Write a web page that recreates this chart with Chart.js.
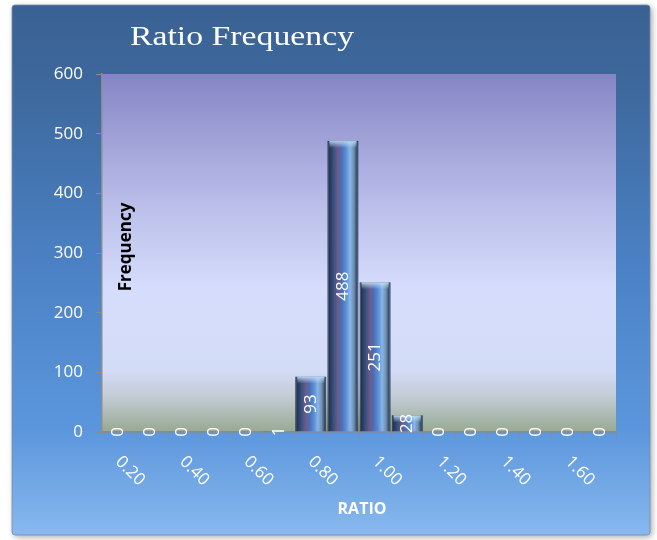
<!DOCTYPE html>
<html>
<head>
<meta charset="utf-8">
<script src="https://cdn.jsdelivr.net/npm/chart.js@4"></script>
<style>
  html, body { margin: 0; padding: 0; background: #fff; }
  #chart { display: block; }
</style>
</head>
<body>
<canvas id="chart" width="657" height="540"></canvas>
<script>
// bins of the ratio histogram
const categories = ['0.20', '0.30', '0.40', '0.50', '0.60', '0.70', '0.80', '0.90',
                    '1.00', '1.10', '1.20', '1.30', '1.40', '1.50', '1.60', '1.70'];
const frequency = [0, 0, 0, 0, 0, 1, 93, 488, 251, 28, 0, 0, 0, 0, 0, 0];
// only every other bin gets a label under the axis
const tickLabels = ['0.20', '', '0.40', '', '0.60', '', '0.80', '',
                    '1.00', '', '1.20', '', '1.40', '', '1.60', ''];
const yTicks = [0, 100, 200, 300, 400, 500, 600];

const chartTitle = 'Ratio Frequency';
const yTitle = 'Frequency';
const xTitle = 'RATIO';

const LABEL_FONT = '17px "Open Sans"';

function barFill(ctx) {
    const chart = ctx.chart;
    const area = chart.chartArea;
    if (!area) return '#4a78c0';
    const x = chart.scales.x.getPixelForValue(ctx.dataIndex);
    const w = (area.right - area.left) / categories.length;
    const g = chart.ctx.createLinearGradient(x - w / 2, 0, x + w / 2, 0);
    g.addColorStop(0, '#18243c');
    g.addColorStop(0.1, '#263b5e');
    g.addColorStop(0.24, '#425583');
    g.addColorStop(0.34, '#70598a');
    g.addColorStop(0.46, '#4870b5');
    g.addColorStop(0.6, '#5b8fd6');
    g.addColorStop(0.72, '#88b6e8');
    g.addColorStop(0.84, '#7090b0');
    g.addColorStop(0.95, '#283d5a');
    g.addColorStop(1, '#18243c');
    return g;
}

const backdrop = {
    id: 'backdrop',
    beforeDraw(chart) {
        const c = chart.ctx;
        const a = chart.chartArea;
        c.save();
        c.fillStyle = '#ffffff';
        c.fillRect(0, 0, chart.width, chart.height);

        // outer panel
        c.shadowColor = 'rgba(0,0,0,0.35)';
        c.shadowBlur = 6;
        c.shadowOffsetX = 2;
        c.shadowOffsetY = 2;
        const pg = c.createLinearGradient(0, 5, 0, 535);
        pg.addColorStop(0, '#3a6193');
        pg.addColorStop(0.18, '#3e6a9f');
        pg.addColorStop(0.47, '#4a80c3');
        pg.addColorStop(0.8, '#5b96dc');
        pg.addColorStop(1, '#88b8ee');
        c.fillStyle = pg;
        c.beginPath();
        c.roundRect(12, 5, 638, 530, 3);
        c.fill();
        c.shadowColor = 'transparent';
        c.strokeStyle = 'rgba(120,140,170,0.8)';
        c.lineWidth = 1;
        c.stroke();

        // plot area
        const bg = c.createLinearGradient(0, a.top, 0, a.bottom);
        bg.addColorStop(0, '#8585c5');
        bg.addColorStop(0.35, '#b8bce8');
        bg.addColorStop(0.6, '#d5ddfc');
        bg.addColorStop(0.83, '#d3dcf6');
        bg.addColorStop(0.9, '#c3ccd6');
        bg.addColorStop(1, '#97a991');
        c.fillStyle = bg;
        c.fillRect(a.left, a.top, a.right - a.left, a.bottom - a.top);
        c.restore();
    },
    afterDatasetsDraw(chart) {
        const c = chart.ctx;
        const meta = chart.getDatasetMeta(0);
        c.save();
        // light cap at the top of each bar
        meta.data.forEach(bar => {
            const h = Math.min(7, bar.base - bar.y);
            if (h < 3) return;
            const w = bar.width;
            const cg = c.createLinearGradient(0, bar.y, 0, bar.y + h);
            cg.addColorStop(0, 'rgba(200,230,255,0.85)');
            cg.addColorStop(1, 'rgba(200,230,255,0)');
            c.fillStyle = cg;
            c.fillRect(bar.x - w / 2 + 2, bar.y, w - 4, h);
        });
        // value labels, rotated, centred in each bar
        c.fillStyle = '#ffffff';
        c.font = LABEL_FONT;
        c.textAlign = 'center';
        c.textBaseline = 'middle';
        meta.data.forEach((bar, i) => {
            c.save();
            c.translate(bar.x, (bar.y + bar.base) / 2);
            c.rotate(-Math.PI / 2);
            c.fillText(String(frequency[i]), 0, 0);
            c.restore();
        });
        c.restore();
    },
    afterDraw(chart) {
        const c = chart.ctx;
        const a = chart.chartArea;
        const xs = chart.scales.x;
        c.save();
        // x tick labels, slanted down to the right
        c.fillStyle = '#ffffff';
        c.font = LABEL_FONT;
        c.textAlign = 'center';
        c.textBaseline = 'middle';
        tickLabels.forEach((t, i) => {
            if (!t) return;
            c.save();
            c.translate(xs.getPixelForValue(i) + 12, a.bottom + 39);
            c.rotate(Math.PI / 4);
            c.fillText(t, 0, 0);
            c.restore();
        });

        // chart title, stretched to the width it has in the original
        c.font = '28px "Liberation Serif"';
        c.textAlign = 'left';
        c.textBaseline = 'alphabetic';
        const tw = c.measureText(chartTitle).width;
        c.save();
        c.translate(130, 45);
        c.scale(224 / tw, 1);
        c.fillText(chartTitle, 0, 0);
        c.restore();

        // axis titles
        c.font = 'bold 16px "Open Sans"';
        c.textAlign = 'center';
        c.textBaseline = 'middle';
        c.fillText(xTitle, (a.left + a.right) / 2 + 3, 509);

        c.fillStyle = '#000000';
        c.font = 'bold 17px "Open Sans"';
        c.save();
        c.translate(a.left + 24, 247);
        c.rotate(-Math.PI / 2);
        c.fillText(yTitle, 0, 0);
        c.restore();
        c.restore();
    }
};

new Chart(document.getElementById('chart'), {
    type: 'bar',
    data: {
        labels: categories,
        datasets: [{
            label: yTitle,
            data: frequency,
            backgroundColor: barFill,
            borderColor: '#1a2640',
            borderWidth: ctx => (frequency[ctx.dataIndex] > 1 ? 1 : 0),
            borderSkipped: 'bottom',
            barPercentage: 0.97,
            categoryPercentage: 1
        }]
    },
    options: {
        responsive: false,
        animation: false,
        layout: { padding: { left: 42, right: 41, top: 74, bottom: 0 } },
        plugins: {
            legend: { display: false },
            tooltip: { enabled: false }
        },
        scales: {
            x: {
                offset: true,
                ticks: { display: false },
                grid: {
                    offset: true,
                    drawOnChartArea: false,
                    drawTicks: true,
                    tickLength: 5,
                    color: '#8c8c8c'
                },
                border: { color: '#8c8c8c', width: 1.5 },
                afterFit: s => { s.height = 108; }
            },
            y: {
                min: yTicks[0],
                max: yTicks[yTicks.length - 1],
                afterBuildTicks: s => { s.ticks = yTicks.map(v => ({ value: v })); },
                ticks: {
                    color: '#ffffff',
                    font: { family: 'Open Sans', size: 17 },
                    padding: 13
                },
                grid: {
                    drawOnChartArea: false,
                    drawTicks: true,
                    tickLength: 6,
                    color: '#8c8c8c'
                },
                border: { color: '#8c8c8c', width: 1.5 },
                afterFit: s => { s.width = 60; }
            }
        }
    },
    plugins: [backdrop]
});
</script>
</body>
</html>
